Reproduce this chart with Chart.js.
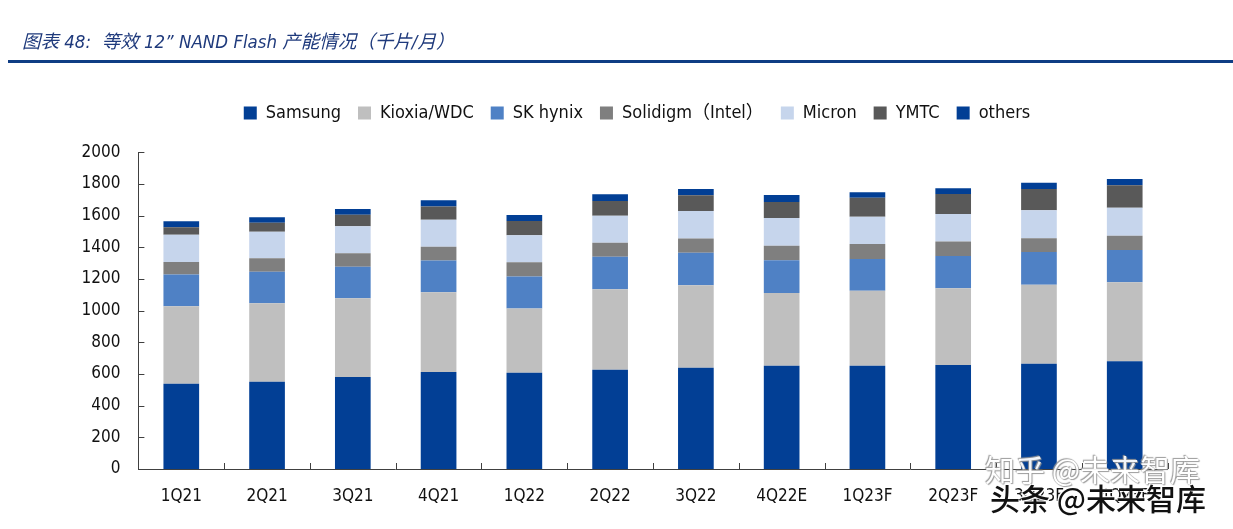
<!DOCTYPE html>
<html>
<head>
<meta charset="utf-8">
<script src="https://cdn.jsdelivr.net/npm/chart.js@4.4.1/dist/chart.umd.min.js"></script>
<style>
  html, body { margin: 0; padding: 0; background: #fff; }
  #wrap { position: relative; width: 1233px; height: 529px; overflow: hidden; }
  #c { position: absolute; left: 0; top: 0; }
  #title { position: absolute; left: 22px; top: 27px; font: italic 18.5px 'DejaVu Sans Condensed', 'DejaVu Sans', 'Noto Sans CJK SC', sans-serif; color: #1f3a7c; white-space: pre; }
  #rule { position: absolute; left: 8px; top: 60px; width: 1225px; height: 3px; background: #0f3d84; }
  .wm { position: absolute; font-family: 'Noto Sans CJK SC', sans-serif; white-space: pre; }
  #wm1 { left: 985px; top: 446px; font-size: 30px; color: #fff; text-shadow: 0 0 1px #888, 1px 1px 1px #999, -1px -1px 1px #999; opacity: 0.95; }
  #wm2 { left: 990px; top: 475px; font-size: 30px; font-weight: 500; color: #111; text-shadow: 0 0 2px #fff, 1px 1px 0 #fff, -1px -1px 0 #fff; }
</style>
</head>
<body>
<div id="wrap">
  <canvas id="c" width="1233" height="529"></canvas>
  <div id="title">图表 48:  等效 12” NAND Flash 产能情况（千片/月）</div>
  <div id="rule"></div>
  <div class="wm" id="wm1">知乎 @未来智库</div>
  <div class="wm" id="wm2">头条 @未来智库</div>
</div>
<script>
const categories = ['1Q21','2Q21','3Q21','4Q21','1Q22','2Q22','3Q22','4Q22E','1Q23F','2Q23F','3Q23F','4Q23F'];
const samsung  = [538, 551, 581, 613, 608, 627, 640, 652, 652, 657, 665, 680];
const kioxia   = [489, 495, 497, 503, 405, 508, 520, 459, 474, 484, 499, 499];
const skhynix  = [201, 200, 200, 200, 202, 206, 206, 207, 200, 204, 206, 204];
const solidigm = [80, 85, 84, 88, 90, 88, 89, 92, 95, 91, 87, 90];
const micron   = [171, 168, 171, 170, 171, 171, 174, 175, 172, 174, 177, 177];
const ymtc     = [48, 56, 73, 83, 90, 92, 99, 101, 120, 127, 134, 142];
const others   = [38, 35, 36, 40, 38, 43, 40, 44, 34, 36, 40, 39];
const seriesNames = ['Samsung', 'Kioxia/WDC', 'SK hynix', 'Solidigm（Intel）', 'Micron', 'YMTC', 'others'];
const seriesColors = ['#023f95', '#bfbfbf', '#4f81c5', '#7f7f7f', '#c6d5ec', '#595959', '#023f95'];
const yTicks = [0, 200, 400, 600, 800, 1000, 1200, 1400, 1600, 1800, 2000];

const FONT = "'DejaVu Sans Condensed', 'DejaVu Sans', 'Noto Sans CJK SC', sans-serif";
const seriesData = [samsung, kioxia, skhynix, solidigm, micron, ymtc, others];

const legendSpacer = {
  id: 'legendSpacer',
  beforeInit(chart) {
    const origFit = chart.legend.fit;
    chart.legend.fit = function () {
      origFit.bind(chart.legend)();
      this.height += 20.3;
    };
  },
  afterLayout(chart) {
    const lg = chart.legend;
    lg.left = 106;
    lg.right = 1168;
    lg.adjustHitBoxes();
  }
};

const innerTicks = {
  id: 'innerTicks',
  afterDraw(chart) {
    const ctx = chart.ctx;
    const x = chart.scales.x, y = chart.scales.y;
    const area = chart.chartArea;
    ctx.save();
    ctx.strokeStyle = '#404040';
    ctx.lineWidth = 1;
    ctx.beginPath();
    yTicks.forEach(v => {
      const py = Math.round(y.getPixelForValue(v)) + 0.5;
      ctx.moveTo(area.left, py);
      ctx.lineTo(area.left + 6, py);
    });
    const n = categories.length;
    for (let i = 0; i <= n; i++) {
      let px;
      if (i === 0) px = area.left;
      else if (i === n) px = area.right;
      else px = (x.getPixelForValue(i - 1) + x.getPixelForValue(i)) / 2;
      px = Math.round(px) + 0.5;
      ctx.moveTo(px, area.bottom);
      ctx.lineTo(px, area.bottom - 6);
    }
    ctx.stroke();
    ctx.restore();
  }
};

new Chart(document.getElementById('c'), {
  type: 'bar',
  data: {
    labels: categories,
    datasets: seriesNames.map((name, i) => ({
      label: name,
      data: seriesData[i],
      backgroundColor: seriesColors[i],
      borderWidth: 0,
      barPercentage: 0.416,
      categoryPercentage: 1.0
    }))
  },
  options: {
    responsive: false,
    animation: false,
    devicePixelRatio: 1,
    layout: { padding: { top: 87, left: 0, right: 65.4, bottom: 0 } },
    plugins: {
      legend: {
        position: 'top',
        align: 'center',
        labels: {
          boxWidth: 13,
          boxHeight: 13,
          padding: 17,
          color: '#111',
          font: { family: FONT, size: 18 }
        }
      },
      tooltip: { enabled: false },
      title: { display: false }
    },
    scales: {
      x: {
        stacked: true,
        grid: { display: false, drawTicks: false },
        border: { display: true, color: '#404040', width: 1 },
        ticks: { color: '#111', font: { family: FONT, size: 17 }, padding: 17, maxRotation: 0, autoSkip: false },
        afterFit(s) { s.height = 60; }
      },
      y: {
        stacked: true,
        min: 0,
        max: 2000,
        grid: { display: false, drawTicks: false },
        border: { display: true, color: '#404040', width: 1 },
        ticks: { stepSize: 200, color: '#111', font: { family: FONT, size: 17 }, padding: 18, callback: v => String(v) },
        afterBuildTicks(s) { s.ticks = yTicks.map(v => ({ value: v })); },
        afterFit(s) { s.width = 138.4; }
      }
    }
  },
  plugins: [legendSpacer, innerTicks]
});
</script>
</body>
</html>
